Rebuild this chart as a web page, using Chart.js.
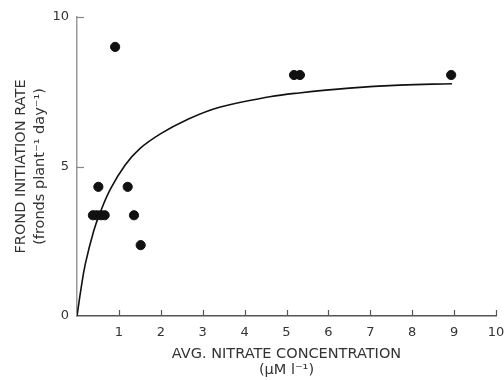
<!DOCTYPE html>
<html>
<head>
<script src="https://cdn.jsdelivr.net/npm/chart.js"></script>
<style>
  html, body { margin: 0; padding: 0; background: #fff; }
  #wrap { width: 504px; height: 380px; }
</style>
</head>
<body>
<div id="wrap"><canvas id="grafico"></canvas></div>
<script>
// observed points (x = avg nitrate, y = frond initiation rate)
var puntosX = [0.91, 0.51, 1.21, 0.38, 0.47, 0.57, 0.66, 1.36, 1.52, 5.18, 5.32, 8.93];
var puntosY = [9.0, 4.32, 4.32, 3.37, 3.37, 3.37, 3.37, 3.37, 2.37, 8.06, 8.06, 8.06];

// fitted curve
var curvaX = [0, 0.1, 0.2, 0.4, 0.55, 0.8, 1.15, 1.5, 2.0, 2.6, 3.4, 4.6, 5.3, 6.5, 7.7, 8.95];
var curvaY = [0, 0.95, 1.75, 2.85, 3.45, 4.25, 5.05, 5.6, 6.1, 6.55, 6.98, 7.33, 7.46, 7.62, 7.72, 7.77];

var ticksX = [1, 2, 3, 4, 5, 6, 7, 8, 9, 10];
var ticksY = [0, 5, 10];

var fuente = "'DejaVu Sans', sans-serif";
var colorTexto = '#333';

function pares(xs, ys) {
  var out = [];
  for (var i = 0; i < xs.length; i++) out.push({ x: xs[i], y: ys[i] });
  return out;
}

// small tick marks drawn inward from the axes
var marcasInternas = {
  id: 'marcasInternas',
  afterDraw: function (chart) {
    var c = chart.ctx, sx = chart.scales.x, sy = chart.scales.y;
    c.save();
    c.lineWidth = 1.2;
    c.strokeStyle = '#555';
    ticksX.forEach(function (v) {
      var px = Math.round(sx.getPixelForValue(v)) + 0.5;
      c.beginPath();
      c.moveTo(px, sx.top);
      c.lineTo(px, sx.top - 6);
      c.stroke();
    });
    c.strokeStyle = '#888';
    ticksY.slice(1).forEach(function (v) {
      var py = Math.round(sy.getPixelForValue(v)) + 0.5;
      c.beginPath();
      c.moveTo(sy.right, py);
      c.lineTo(sy.right + 7, py);
      c.stroke();
    });
    c.restore();
  }
};

var ctx = document.getElementById('grafico').getContext('2d');
var chart = new Chart(ctx, {
  type: 'scatter',
  data: {
    datasets: [
      {
        label: 'ajuste',
        type: 'line',
        data: pares(curvaX, curvaY),
        borderColor: '#111',
        borderWidth: 1.6,
        pointRadius: 0,
        fill: false,
        tension: 0.4
      },
      {
        label: 'datos',
        data: pares(puntosX, puntosY),
        backgroundColor: '#111',
        borderColor: '#111',
        pointRadius: 4.6,
        pointHoverRadius: 4.6
      }
    ]
  },
  options: {
    responsive: true,
    maintainAspectRatio: false,
    animation: false,
    layout: { padding: { top: 17, right: 0, left: 0, bottom: 0 } },
    plugins: { legend: { display: false }, tooltip: { enabled: false } },
    scales: {
      x: {
        type: 'linear',
        min: 0,
        max: 10,
        afterBuildTicks: function (s) { s.ticks = ticksX.map(function (v) { return { value: v }; }); },
        grid: { display: false, drawTicks: false },
        border: { display: true, color: '#555', width: 1.5 },
        ticks: { padding: 9, color: colorTexto, font: { family: fuente, size: 13 } },
        title: {
          display: true,
          text: ['AVG. NITRATE CONCENTRATION', '(\u03bcM l\u207b\u00b9)'],
          color: colorTexto,
          font: { family: fuente, size: 14.5, lineHeight: 1.1 },
          padding: { top: 3, bottom: 2 }
        },
        afterFit: function (s) { s.height = 64; s.paddingRight = 8; s.paddingLeft = 0; }
      },
      y: {
        type: 'linear',
        min: 0,
        max: 10,
        afterBuildTicks: function (s) { s.ticks = ticksY.map(function (v) { return { value: v }; }); },
        grid: { display: false, drawTicks: false },
        border: { display: true, color: '#999', width: 1.5 },
        ticks: { padding: 8, color: colorTexto, font: { family: fuente, size: 13 } },
        title: {
          display: true,
          text: ['FROND INITIATION RATE', '(fronds plant\u207b\u00b9 day\u207b\u00b9)'],
          color: colorTexto,
          font: { family: fuente, size: 14.5, lineHeight: 1.3 },
          padding: { top: 12, bottom: 4 }
        },
        afterFit: function (s) { s.width = 77; }
      }
    }
  },
  plugins: [marcasInternas]
});
</script>
</body>
</html>
